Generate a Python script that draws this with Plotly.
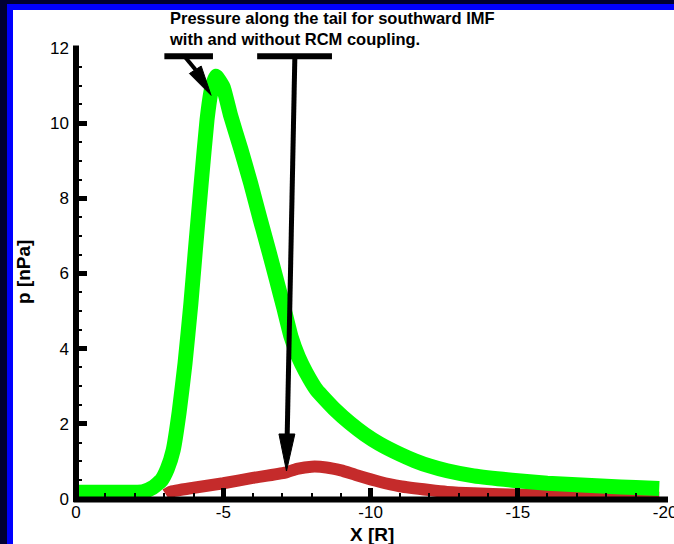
import plotly.graph_objects as go

# ---- data ----
x_without = [0, -1, -2, -2.3, -2.6, -2.9, -3.1, -3.3, -3.5, -3.7, -3.9, -4.05, -4.25, -4.45,
             -4.6, -4.75, -5.0, -5.25, -5.6, -5.93, -6.25, -6.54, -6.8, -7.05, -7.3, -7.55,
             -7.8, -8.17, -8.8, -9.3, -9.8, -10.3, -11.0, -11.5, -12.0, -12.6, -13.5,
             -14.8, -16.0, -17.0, -18.0, -19.0, -19.8]
p_without = [0.18, 0.18, 0.18, 0.2, 0.3, 0.5, 0.8, 1.3, 2.3, 3.6, 5.2, 6.6, 8.4, 10.1,
             10.9, 11.25, 10.95, 10.2, 9.3, 8.4, 7.45, 6.62, 5.85, 5.1, 4.32, 3.78,
             3.38, 2.9, 2.37, 2.02, 1.72, 1.47, 1.19, 1.02, 0.88, 0.75, 0.615,
             0.5, 0.42, 0.38, 0.34, 0.305, 0.28]

x_with = [-3.05, -3.2, -4.0, -5.0, -6.0, -7.1, -7.5, -8.0, -8.5, -9.0, -9.5, -10.3, -11.0,
          -12.0, -12.6, -13.5, -14.8, -16.0, -17.0, -18.0, -19.0, -19.8]
p_with = [0.12, 0.19, 0.3, 0.42, 0.56, 0.7, 0.8, 0.86, 0.84, 0.76, 0.64, 0.46, 0.34,
          0.24, 0.19, 0.15, 0.12, 0.1, 0.08, 0.06, 0.04, 0.03]

x_tickvals = [0, -5, -10, -15, -20]
x_ticktext = ["0", "-5", "-10", "-15", "-20"]
y_tickvals = [0, 2, 4, 6, 8, 10, 12]
y_ticktext = ["0", "2", "4", "6", "8", "10", "12"]

title_text = "Pressure along the tail for southward IMF<br>with and without RCM coupling."
x_title = "X [R]"
y_title = "p [nPa]"

# ---- layout geometry ----
W, H = 674, 544
ML, MR, MT, MB = 76, 8, 48, 45
PW, PH = W - ML - MR, H - MT - MB


def px(xp):
    return (xp - ML) / PW


def py(yp):
    return (H - MB - yp) / PH


FONT = "Liberation Sans, Arial, sans-serif"

fig = go.Figure()
fig.add_trace(go.Scatter(x=x_with, y=p_with, mode="lines",
                         line=dict(color="#c52b2b", width=12, shape="spline", smoothing=0.5),
                         showlegend=False, hoverinfo="skip"))
fig.add_trace(go.Scatter(x=x_without, y=p_without, mode="lines",
                         line=dict(color="#00ff00", width=15, shape="spline", smoothing=0.4),
                         showlegend=False, hoverinfo="skip"))

black = "black"
shapes = [
    # blue frame and white page
    dict(type="rect", xref="paper", yref="paper", x0=px(7), x1=px(690), y0=py(560), y1=py(4),
         fillcolor="#0000ff", line=dict(width=0), layer="below"),
    dict(type="rect", xref="paper", yref="paper", x0=px(13), x1=px(690), y0=py(560), y1=py(10),
         fillcolor="white", line=dict(width=0), layer="below"),
    # thick axis lines
    dict(type="line", xref="paper", yref="paper", x0=px(73.5), x1=px(668), y0=py(499.5), y1=py(499.5),
         line=dict(color=black, width=6)),
    dict(type="line", xref="paper", yref="paper", x0=px(76), x1=px(76), y0=py(502), y1=py(45.5),
         line=dict(color=black, width=6)),
]

# arrow 1 (with T bar)
shapes += [
    dict(type="line", xref="x", yref="y", x0=-3.0, x1=-4.65, y0=11.78, y1=11.78,
         line=dict(color=black, width=6)),
    dict(type="line", xref="x", yref="y", x0=-3.70, y0=11.76, x1=-4.06, y1=11.42,
         line=dict(color=black, width=4)),
    dict(type="path", xref="x", yref="y",
         path="M -4.25,11.52 L -3.85,11.32 L -4.586,10.74 Z",
         fillcolor=black, line=dict(color=black, width=1)),
]
# arrow 2 (with T bar)
shapes += [
    dict(type="line", xref="x", yref="y", x0=-6.15, x1=-8.69, y0=11.78, y1=11.78,
         line=dict(color=black, width=6)),
    dict(type="line", xref="x", yref="y", x0=-7.43, y0=11.78, x1=-7.17, y1=1.70,
         line=dict(color=black, width=5)),
    dict(type="path", xref="x", yref="y",
         path="M -6.89,1.73 L -7.43,1.73 L -7.146,0.745 Z",
         fillcolor=black, line=dict(color=black, width=1)),
]

annotations = [
    dict(text="<b>" + title_text.replace("<br>", "</b><br><b>") + "</b>",
         xref="paper", yref="paper", x=px(167), y=py(7), xanchor="left", yanchor="top",
         align="left", showarrow=False, font=dict(family=FONT, size=16.5, color="black")),
    dict(text="<b>" + x_title + "</b>", xref="paper", yref="paper", x=px(372), y=py(534),
         xanchor="center", yanchor="middle", showarrow=False,
         font=dict(family=FONT, size=19, color="black")),
    dict(text="<b>" + y_title + "</b>", xref="paper", yref="paper", x=px(23), y=py(272),
         xanchor="center", yanchor="middle", textangle=-90, showarrow=False,
         font=dict(family=FONT, size=19, color="black")),
]

fig.update_layout(
    width=W, height=H,
    margin=dict(l=ML, r=MR, t=MT, b=MB, pad=0, autoexpand=False),
    paper_bgcolor="#000033", plot_bgcolor="white",
    shapes=shapes, annotations=annotations,
    showlegend=False,
)
fig.update_xaxes(range=[0, -20.03], showgrid=False, zeroline=False, showline=False,
                 automargin=False,
                 ticks="inside", ticklen=11, tickwidth=5, tickcolor=black,
                 tickvals=x_tickvals, ticktext=x_ticktext, ticklabeloverflow="allow",
                 ticklabelstandoff=1,
                 tickfont=dict(family=FONT, size=17, color=black),
                 minor=dict(ticks="inside", dtick=1, ticklen=6, tickwidth=1.5, tickcolor=black,
                            showgrid=False))
fig.update_yaxes(range=[0, 12], showgrid=False, zeroline=False, showline=False,
                 automargin=False,
                 ticks="inside", ticklen=11, tickwidth=5, tickcolor=black,
                 tickvals=y_tickvals, ticktext=y_ticktext, ticklabeloverflow="allow",
                 ticklabelstandoff=6,
                 tickfont=dict(family=FONT, size=17, color=black),
                 minor=dict(ticks="inside", dtick=0.5, ticklen=6, tickwidth=1.5, tickcolor=black,
                            showgrid=False))

fig.write_html("out.html")
